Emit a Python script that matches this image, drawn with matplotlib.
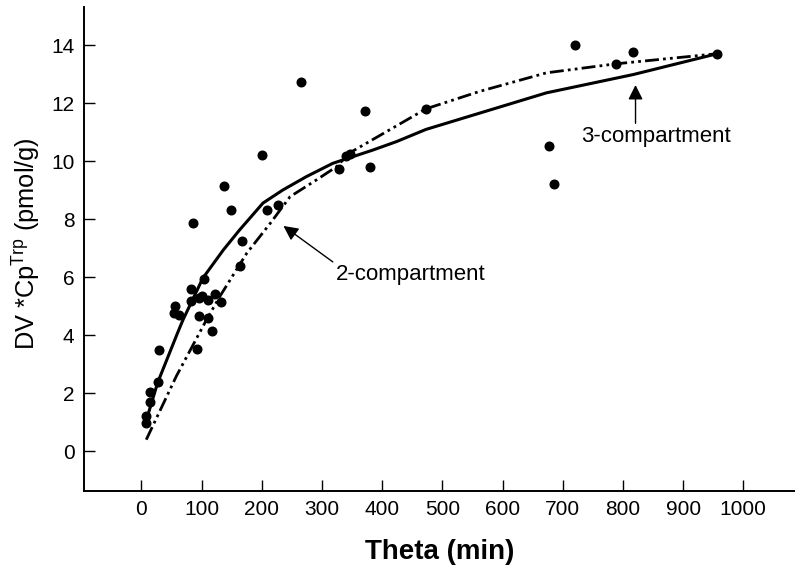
import matplotlib
matplotlib.use("Agg")
import matplotlib.pyplot as plt

plt.rcParams['font.family'] = ['Liberation Sans', 'DejaVu Sans']
plt.rcParams['mathtext.fontset'] = 'custom'
plt.rcParams['mathtext.rm'] = 'Liberation Sans'
plt.rcParams['mathtext.it'] = 'Liberation Sans'

# Observed data points (Theta in min, DV*Cp^Trp in pmol/g)
theta_obs = [7, 7, 15, 15, 28, 30, 54, 56, 62, 82, 83, 86, 92, 96, 96, 101, 104,
             110, 111, 118, 123, 132, 138, 149, 164, 167, 200, 208, 227, 265,
             328, 340, 346, 372, 379, 473, 677, 685, 721, 788, 817, 957]
cp_obs = [0.98, 1.23, 1.70, 2.03, 2.39, 3.48, 4.77, 5.02, 4.69, 5.17, 5.58, 7.86,
          3.53, 4.68, 5.29, 5.35, 5.95, 4.60, 5.21, 4.14, 5.43, 5.15, 9.14, 8.33,
          6.38, 7.24, 10.20, 8.31, 8.50, 12.72, 9.75, 10.17, 10.25, 11.72, 9.79,
          11.81, 10.52, 9.20, 14.02, 13.36, 13.77, 13.71]

# 3-compartment model fit (solid)
theta_3c = [5, 27, 60, 69, 102, 136, 163, 202, 235, 274, 318, 385, 424, 473,
            673, 817, 957]
cp_3c = [0.86, 2.37, 4.08, 4.53, 5.97, 6.94, 7.63, 8.56, 9.01, 9.47, 9.93,
         10.39, 10.68, 11.10, 12.36, 12.99, 13.71]

# 2-compartment model fit (dash-dot)
theta_2c = [8, 58, 108, 130, 175, 214, 247, 291, 324, 346, 473, 562, 673, 788,
            957]
cp_2c = [0.40, 2.59, 4.53, 5.33, 6.83, 7.86, 8.78, 9.36, 9.81, 10.29, 11.81,
         12.41, 13.05, 13.36, 13.71]

fig = plt.figure(figsize=(7.95, 5.69), dpi=100)
ax = fig.add_axes([0.106, 0.1376, 0.894, 0.8506])

ax.plot(theta_3c, cp_3c, color='black', lw=2.2, solid_capstyle='butt',
        solid_joinstyle='round', zorder=2)
ax.plot(theta_2c, cp_2c, color='black', lw=2.0, dashes=(5, 1.5, 1, 1.5, 1, 1.5),
        zorder=2)
ax.plot(theta_obs, cp_obs, 'o', color='black', markersize=6.2, zorder=3)

ax.set_xlim(-95, 1086)
ax.set_ylim(-1.36, 15.33)
ax.set_xticks(range(0, 1001, 100))
ax.set_yticks(range(0, 15, 2))

for s in ['top', 'right']:
    ax.spines[s].set_visible(False)
for s in ['left', 'bottom']:
    ax.spines[s].set_linewidth(1.4)

ax.tick_params(direction='in', length=8, width=1.0, labelsize=15, pad=7)

ax.set_xlabel('Theta (min)', fontsize=20, fontweight='bold', labelpad=14)
ax.set_ylabel(r'DV *Cp$^{\mathrm{Trp}}$ (pmol/g)', fontsize=18.3)
ax.yaxis.set_label_coords(-0.058, 0.51)

arrow_kw = dict(arrowstyle='-|>', color='black', lw=1.0, mutation_scale=22,
                shrinkA=0, shrinkB=0)
ax.annotate('', xy=(236, 7.77), xytext=(318, 6.53), arrowprops=arrow_kw)
ax.text(448, 6.11, '2-compartment', fontsize=16, ha='center', va='center')
ax.annotate('', xy=(821, 12.63), xytext=(821, 11.31), arrowprops=arrow_kw)
ax.text(855, 10.85, '3-compartment', fontsize=16, ha='center', va='center')

fig.savefig('out.png', dpi=100)
